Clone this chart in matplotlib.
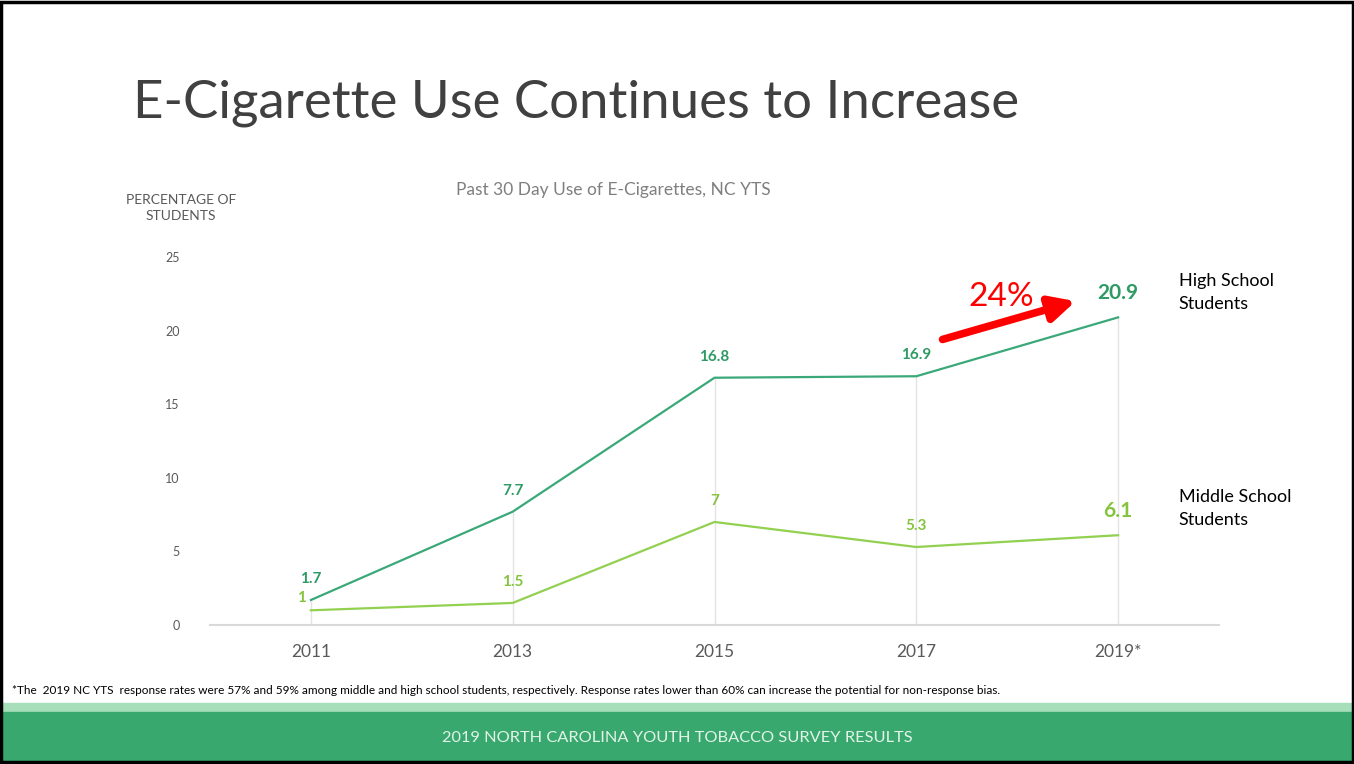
import matplotlib.pyplot as plt
from matplotlib.patches import Rectangle

# Данные
years = ["2011", "2013", "2015", "2017", "2019*"]
high_school = [1.7, 7.7, 16.8, 16.9, 20.9]
middle_school = [1, 1.5, 7, 5.3, 6.1]
y_ticks = [0, 5, 10, 15, 20, 25]

hs_color = "#3aa878"
ms_color = "#92d050"
hs_text = "#2e9a64"
ms_text = "#86c440"
gray = "#595959"

plt.rcParams["font.family"] = ["Lato", "DejaVu Sans"]

fig = plt.figure(figsize=(13.54, 7.64), dpi=100)
ax = fig.add_axes([0.1551, 0.1819, 0.7452, 0.4817])

x = list(range(len(years)))

# Линии-опоры от оси до точек
ax.vlines(x, 0, high_school, color="#e3e3e3", lw=1, zorder=1)

ax.plot(x, high_school, color=hs_color, lw=1.6, zorder=3)
ax.plot(x, middle_school, color=ms_color, lw=1.6, zorder=3)

# Подписи значений
for i, v in enumerate(high_school):
    big = i == len(x) - 1
    ax.annotate(f"{v:g}", (i, v), xytext=(0, 10), textcoords="offset points",
                ha="center", va="bottom", color=hs_text, fontweight="bold",
                fontsize=15 if big else 11)
for i, v in enumerate(middle_school):
    big = i == len(x) - 1
    off = (-7, 4) if i == 0 else (0, 10)
    ax.annotate(f"{v:g}", (i, v), xytext=off, textcoords="offset points",
                ha="center", va="bottom", color=ms_text, fontweight="bold",
                fontsize=15 if big else 11)

ax.set_xlim(-0.5, len(x) - 0.5)
ax.set_ylim(0, 25)
ax.set_yticks(y_ticks)
ax.set_xticks(x)
ax.set_xticklabels(years)
ax.tick_params(axis="x", length=0, pad=14, labelsize=12.5, labelcolor=gray)
ax.tick_params(axis="y", length=0, pad=22, labelsize=9, labelcolor=gray)
for s in ["top", "right", "left"]:
    ax.spines[s].set_visible(False)
ax.spines["bottom"].set_color("#d9d9d9")
ax.spines["bottom"].set_linewidth(1.5)

# Стрелка роста
ax.annotate("", xy=(3.79, 22.0), xytext=(3.13, 19.4),
            arrowprops=dict(arrowstyle="-|>,head_length=1.5,head_width=0.75",
                            color="#ff0000", lw=5.5, shrinkA=0, shrinkB=0), zorder=5)
ax.text(3.42, 22.3, "24%", color="#ff0000", fontsize=24, ha="center", va="center")

# Подписи серий
ax.text(4.3, 22.6, "High School\nStudents", fontsize=13, color="black",
        va="center", ha="left", linespacing=1.5)
ax.text(4.3, 7.9, "Middle School\nStudents", fontsize=13, color="black",
        va="center", ha="left", linespacing=1.5)

# Заголовки
fig.text(133 / 1354, 1 - 103 / 764, "E-Cigarette Use Continues to Increase",
         fontsize=38, fontweight="normal", color="#404040", va="center", ha="left")
fig.text(613 / 1354, 1 - 190 / 764, "Past 30 Day Use of E-Cigarettes, NC YTS",
         fontsize=12.5, color="#7f7f7f", va="center", ha="center")
fig.text(181 / 1354, 1 - 208 / 764, "PERCENTAGE OF\nSTUDENTS",
         fontsize=10, color=gray, va="center", ha="center", linespacing=1.4)

# Сноска
fig.text(12 / 1354, 1 - 690 / 764,
         "*The  2019 NC YTS  response rates were 57% and 59% among middle and high school students, "
         "respectively. Response rates lower than 60% can increase the potential for non-response bias.",
         fontsize=8.5, color="black", va="center", ha="left")

# Нижняя полоса
fig.patches.append(Rectangle((0, 1 - 712 / 764), 1, 9 / 764, transform=fig.transFigure,
                             color="#a8dfbb", zorder=0))
fig.patches.append(Rectangle((0, 0), 1, 1 - 712 / 764, transform=fig.transFigure,
                             color="#38a86e", zorder=0))
fig.text(0.5, 1 - 738 / 764, "2019 NORTH CAROLINA YOUTH TOBACCO SURVEY RESULTS",
         fontsize=11.8, color="#e2f3e8", va="center", ha="center")

# Рамка
fig.patches.append(Rectangle((0.001, 0.002), 0.998, 0.996, transform=fig.transFigure,
                             fill=False, edgecolor="black", lw=2.5, zorder=10))

fig.savefig("out.png", dpi=100)
